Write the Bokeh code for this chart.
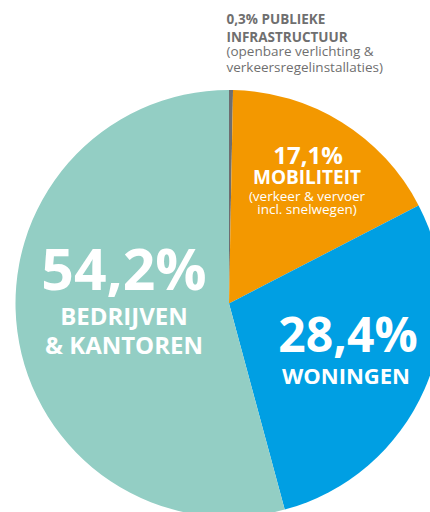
import math
from bokeh.plotting import figure
from bokeh.models import Range1d, ColumnDataSource
from bokeh.core.properties import value
from bokeh.embed import file_html
from bokeh.resources import INLINE

# ---- data ----
categories = ["Publieke infrastructuur", "Mobiliteit", "Woningen", "Bedrijven & kantoren"]
shares = [0.3, 17.1, 28.4, 54.2]
colors = ["#6d6e70", "#f39800", "#009fe3", "#93cec4"]
big_labels = [["PUBLIEKE", "INFRASTRUCTUUR"], ["MOBILITEIT"], ["WONINGEN"], ["BEDRIJVEN", "& KANTOREN"]]
sub_labels = [["(openbare verlichting &", "verkeersregelinstallaties)"],
              ["(verkeer & vervoer", "incl. snelwegen)"], [], []]

def pct(v):
    return f"{v:.1f}%".replace(".", ",")

# ---- geometry (pixel-like units around the pie centre) ----
W, H = 430, 512
OX, OY = 0, 0                     # page offset of the plot
CX, CY, R = 228.5, 303.0, 213.5   # centre in page pixels
p = figure(width=W, height=H, output_backend="svg", toolbar_location=None,
           x_range=Range1d(OX - CX, OX + W - CX), y_range=Range1d(CY - OY - H, CY - OY),
           min_border=0)
p.axis.visible = False
p.grid.visible = False
p.outline_line_color = None
p.background_fill_color = "white"
p.border_fill_color = "white"

total = sum(shares)
starts, ends = [], []
cum = 0.0
for v in shares:
    starts.append(math.pi / 2 - cum / total * 2 * math.pi)
    cum += v
    ends.append(math.pi / 2 - cum / total * 2 * math.pi)

src = ColumnDataSource(dict(start=starts, end=ends, color=colors))
p.wedge(x=0, y=0, radius=R, start_angle="start", end_angle="end", direction="clock",
        fill_color="color", line_color=None, source=src)

FONT = value("Open Sans")
LIFT = 0.35  # compensation for baseline placement, in em

def txt(x, y, s, size, bold=True, color="white", align="center"):
    p.text(x=[x], y=[y + LIFT * size], text=[s], text_font=FONT, text_font_size=f"{size}px",
           text_font_style="bold" if bold else "normal", text_color=color,
           text_align=align, text_baseline="alphabetic")

# Bedrijven & kantoren
txt(-105, 16, pct(shares[3]), 57)
txt(-105, -20, big_labels[3][0], 24)
txt(-105, -49, big_labels[3][1], 24)
# Woningen
txt(119, -47, pct(shares[2]), 48)
txt(117, -79, big_labels[2][0], 22)
# Mobiliteit
txt(79, 141, pct(shares[1]), 24)
txt(78, 120, big_labels[1][0], 19)
txt(78, 102.5, sub_labels[1][0], 13.5, bold=False)
txt(78, 89.5, sub_labels[1][1], 13.5, bold=False)
# Publieke infrastructuur (outside, top right)
GRAY = "#6f6f6f"
txt(-2.5, 280, pct(shares[0]) + " " + big_labels[0][0], 13.5, color=GRAY, align="left")
txt(-2.5, 262, big_labels[0][1], 13.5, color=GRAY, align="left")
txt(-2.5, 248, sub_labels[0][0], 13.5, bold=False, color=GRAY, align="left")
txt(-2.5, 232, sub_labels[0][1], 13.5, bold=False, color=GRAY, align="left")

open("out.html", "w").write(file_html(p, INLINE))
